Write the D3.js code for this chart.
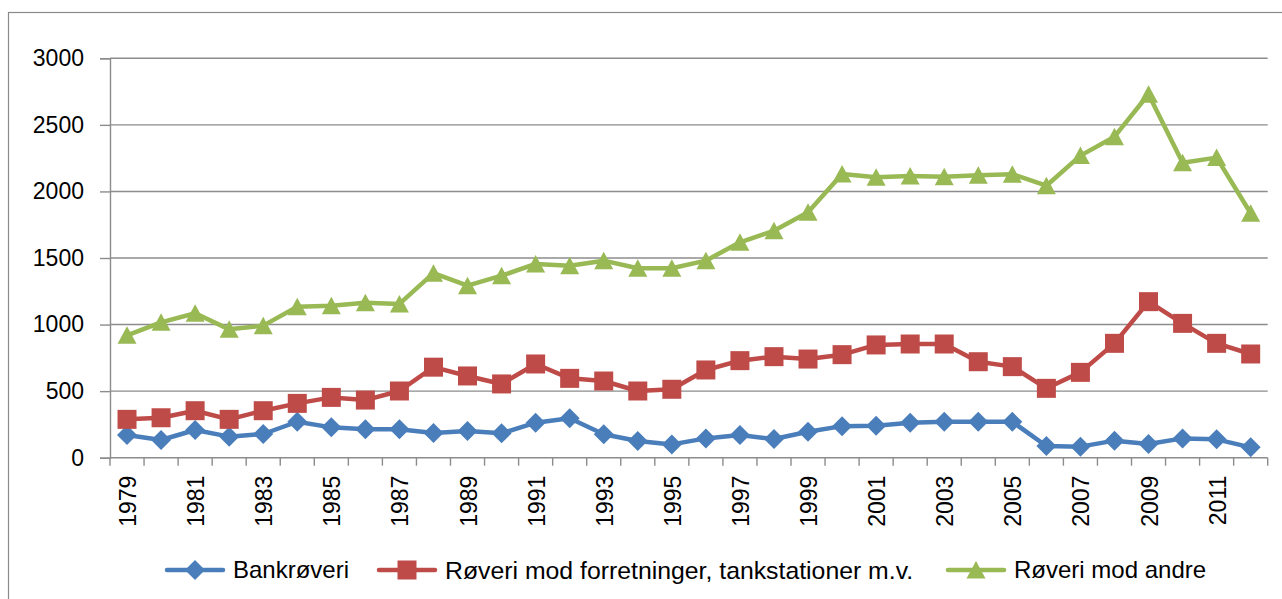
<!DOCTYPE html>
<html><head><meta charset="utf-8">
<script src="https://cdn.jsdelivr.net/npm/d3@7"></script>
<style>
body{margin:0;background:#fff;overflow:hidden}
svg{display:block}
text{font-family:"Liberation Sans",Arial,sans-serif;fill:#000}
</style></head>
<body>
<svg id="chart" width="1282" height="599"></svg>
<script>
const years = [1979,1980,1981,1982,1983,1984,1985,1986,1987,1988,1989,1990,1991,1992,1993,1994,1995,1996,1997,1998,1999,2000,2001,2002,2003,2004,2005,2006,2007,2008,2009,2010,2011,2012];
const bankroveri = [170,133,208,158,178,270,228,213,213,185,200,183,263,296,176,125,100,145,170,140,195,237,240,263,270,270,270,88,83,128,103,145,138,78];
const forretninger = [288,300,353,288,353,408,453,433,501,680,614,554,704,596,576,501,514,659,729,759,741,774,847,854,854,721,684,521,641,859,1172,1009,859,779];
const andre = [919,1017,1085,964,992,1134,1142,1164,1155,1386,1292,1367,1455,1442,1480,1423,1423,1480,1618,1705,1843,2131,2106,2116,2111,2121,2129,2043,2269,2411,2730,2216,2254,1836];
const seriesNames = ["Bankrøveri","Røveri mod forretninger, tankstationer m.v.","Røveri mod andre"];
const yTicks = [0,500,1000,1500,2000,2500,3000];
const xTickLabels = [1979,1981,1983,1985,1987,1989,1991,1993,1995,1997,1999,2001,2003,2005,2007,2009,2011];

const colors = ["#4A7EBB","#BE4B48","#98B954"];
const markers = ["diamond","square","triangle"];
const series = seriesNames.map((n,i)=>({name:n, values:[bankroveri,forretninger,andre][i], color:colors[i], marker:markers[i]}));

const svg = d3.select("#chart");
const L = 110, R = 1267.7, T = 58.3, B = 457.7;

// outer frame
svg.append("rect").attr("x",8.5).attr("y",12.5).attr("width",1300).attr("height",700)
  .attr("fill","none").attr("stroke","#8a8a8a").attr("stroke-width",1.2);

const x = d3.scaleBand().domain(years).range([L,R]).padding(0);
const y = d3.scaleLinear().domain([0,3000]).range([B,T]);

// gridlines
svg.append("g").selectAll("line").data(yTicks.filter(d=>d>0)).join("line")
  .attr("x1",L).attr("x2",R).attr("y1",d=>y(d)).attr("y2",d=>y(d))
  .attr("stroke","#8c8c8c").attr("stroke-width",1.4);

// y axis
const yAxis = svg.append("g").attr("transform",`translate(${L},0)`)
  .call(d3.axisLeft(y).tickValues(yTicks).tickSize(10).tickPadding(16).tickFormat(d3.format("d")));
yAxis.select(".domain").attr("stroke","#8c8c8c").attr("stroke-width",1.4);
yAxis.selectAll(".tick line").attr("stroke","#8c8c8c").attr("stroke-width",1.4);
yAxis.selectAll("text").style("font-size","23px").attr("fill","#000").attr("font-family",null);

// x axis line and ticks at band boundaries
const bounds = years.map(d=>x(d)).concat([x.range()[1]]);
svg.append("line").attr("x1",L).attr("x2",R).attr("y1",B).attr("y2",B)
  .attr("stroke","#8c8c8c").attr("stroke-width",1.4);
svg.append("g").selectAll("line").data(bounds).join("line")
  .attr("x1",d=>d).attr("x2",d=>d).attr("y1",B).attr("y2",B+8)
  .attr("stroke","#8c8c8c").attr("stroke-width",1.4);

// x labels (rotated)
svg.append("g").selectAll("text").data(xTickLabels).join("text")
  .attr("transform",d=>`translate(${x(d)+x.bandwidth()/2+1},${B+18}) rotate(-90)`)
  .attr("text-anchor","end").attr("dy","0.35em").style("font-size","23px").text(d=>d);

// marker shapes
function markerPath(type){
  if(type==="diamond") return "M0,-10L10,0L0,10L-10,0Z";
  if(type==="square") return "M-9.5,-9.5H9.5V9.5H-9.5Z";
  return "M0,-9L9.5,8.5H-9.5Z";
}

const line = d3.line().x((d,i)=>x(years[i])+x.bandwidth()/2).y(d=>y(d));
series.forEach(s=>{
  svg.append("path").datum(s.values).attr("d",line).attr("fill","none")
    .attr("stroke",s.color).attr("stroke-width",4.5).attr("stroke-linejoin","round").attr("stroke-linecap","round");
  svg.append("g").selectAll("path").data(s.values).join("path")
    .attr("transform",(d,i)=>`translate(${x(years[i])+x.bandwidth()/2},${y(d)})`)
    .attr("d",markerPath(s.marker)).attr("fill",s.color);
});

// legend
const legendX = [167,379,948];
const legendSize = ["24px","24.8px","24px"];
const legend = svg.append("g");
series.forEach((s,i)=>{
  const g = legend.append("g").attr("transform",`translate(${legendX[i]},570)`);
  g.append("line").attr("x1",0).attr("x2",56).attr("y1",0).attr("y2",0)
    .attr("stroke",s.color).attr("stroke-width",4.5).attr("stroke-linecap","round");
  g.append("path").attr("transform","translate(28,0)").attr("d",markerPath(s.marker)).attr("fill",s.color);
  g.append("text").attr("x",66).attr("dy","0.35em").style("font-size",legendSize[i]).text(s.name);
});
</script>
</body></html>
